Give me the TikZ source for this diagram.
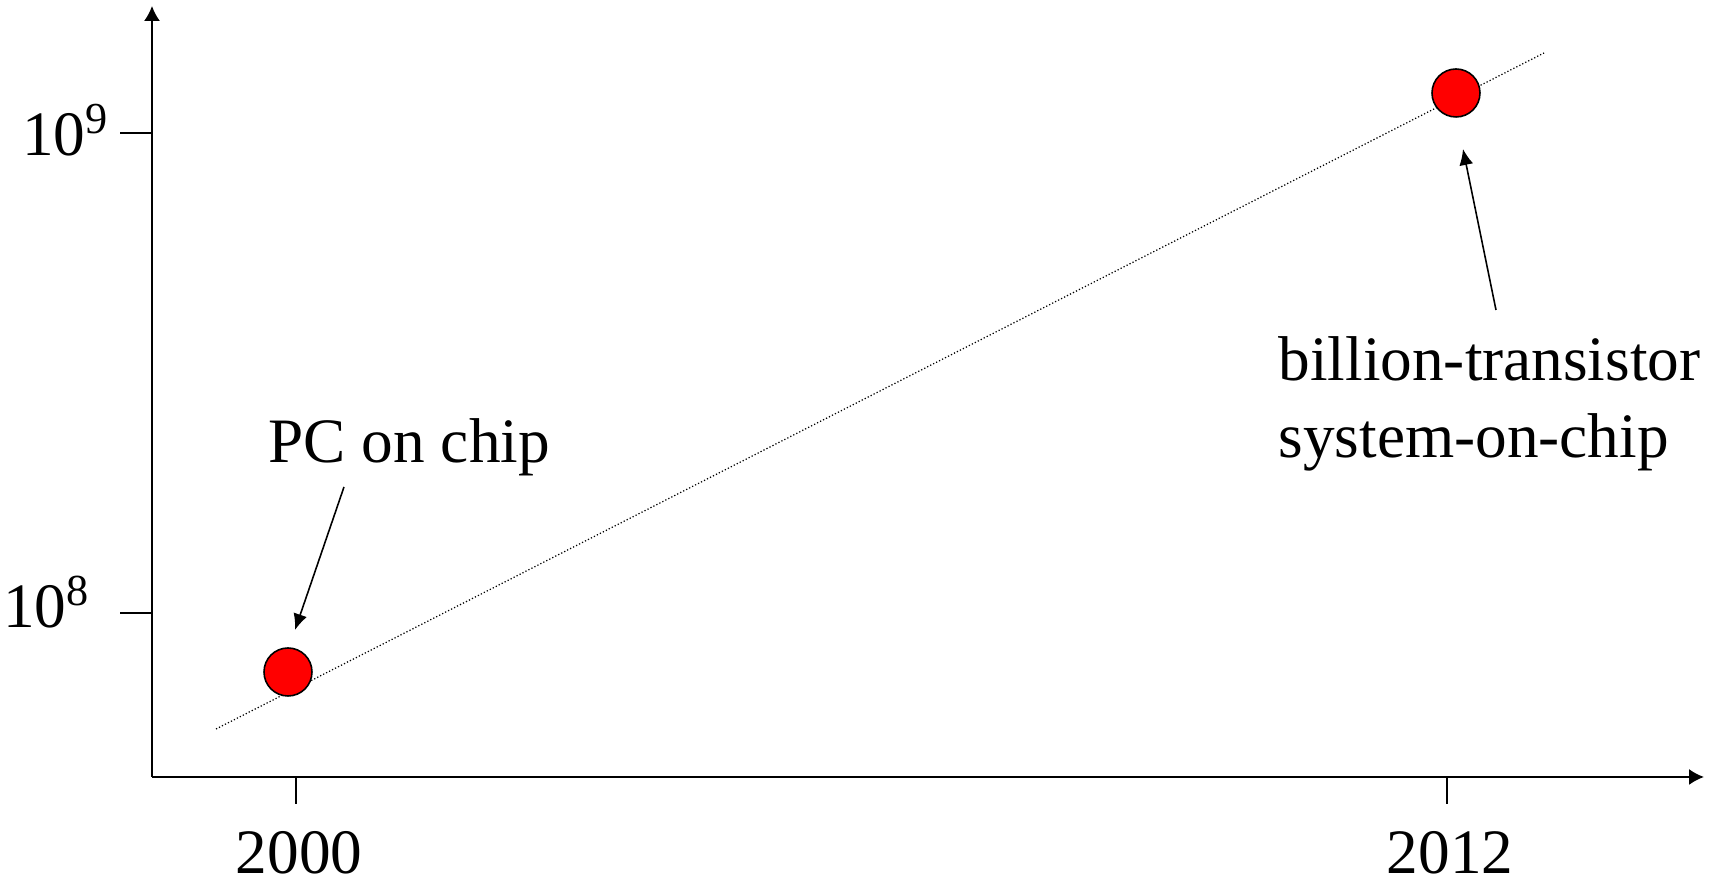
\documentclass[tikz,border=0pt]{standalone}
\usepackage{fontspec}
\setmainfont{Liberation Serif}
\usetikzlibrary{arrows.meta}
\tikzset{
	axis/.style={line width=0.5pt, -{Latex[length=0.15cm,width=0.16cm]}},
	tick/.style={line width=0.5pt},
	lbl/.style={inner sep=0pt, font=\fontsize{18}{22}\selectfont},
	dot/.style={circle, draw, fill=red, line width=0.45pt, minimum size=0.48cm, inner sep=0pt},
	pointer/.style={line width=0.45pt, -{Latex[length=0.16cm,width=0.14cm]}},
}
\begin{document}
\begin{tikzpicture}
	\useasboundingbox (0,0) rectangle (17.19,8.81);

	% axes
	\coordinate (o) at (1.52,1.04);
	\draw[axis] (o) -- (1.52,8.75);
	\draw[axis] (o) -- (17.04,1.04);

	% y ticks
	\draw[tick] (1.20,7.48) -- (1.52,7.48);
	\draw[tick] (1.20,2.68) -- (1.52,2.68);
	\node[lbl, anchor=base east] (e9) at (1.10,7.25) {10\textsuperscript{9}};
	\node[lbl, anchor=base east] (e8) at (0.91,2.53) {10\textsuperscript{8}};

	% x ticks
	\draw[tick] (2.96,1.04) -- (2.96,0.77);
	\draw[tick] (14.47,1.04) -- (14.47,0.77);
	\node[lbl, anchor=base] (y2000) at (2.99,0.07) {2000};
	\node[lbl, anchor=base] (y2012) at (14.50,0.07) {2012};

	% trend
	\draw[dash pattern=on 0.35pt off 0.6pt, line width=0.35pt] (2.16,1.52) -- (15.44,8.28);
	\node[dot] (pc) at (2.88,2.09) {};
	\node[dot] (soc) at (14.56,7.88) {};

	% annotations
	\node[lbl, anchor=base west] (pclbl) at (2.68,4.18) {PC on chip};
	\node[lbl, anchor=base west, align=left] (soclbl) at (12.78,4.23) {billion-transistor\\system-on-chip};
	\coordinate (pcfrom) at (3.44,3.94);
	\coordinate (pcto) at (2.95,2.51);
	\coordinate (socfrom) at (14.96,5.71);
	\coordinate (socto) at (14.63,7.32);
	\draw[pointer] (pcfrom) -- (pcto);
	\draw[pointer] (socfrom) -- (socto);
\end{tikzpicture}
\end{document}
